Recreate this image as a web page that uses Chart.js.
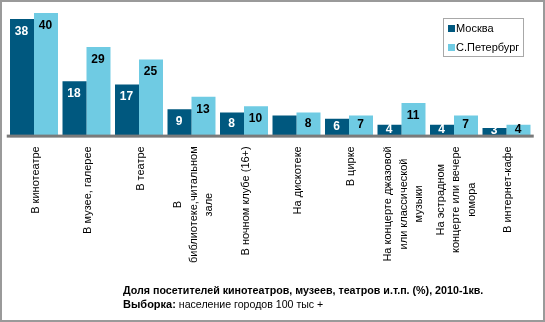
<!DOCTYPE html>
<html>
<head>
<meta charset="utf-8">
<script src="https://cdn.jsdelivr.net/npm/chart.js@4/dist/chart.umd.min.js"></script>
<style>
  html, body { margin: 0; padding: 0; background: #fff; }
  #wrap { width: 545px; height: 322px; position: relative; }
</style>
</head>
<body>
<div id="wrap"><canvas id="visitChart" width="545" height="322"></canvas></div>
<script>
const categories = [
  ['В кинотеатре'],
  ['В музее, галерее'],
  ['В театре'],
  ['В', 'библиотеке,читальном', 'зале'],
  ['В ночном клубе (16+)'],
  ['На дискотеке'],
  ['В цирке'],
  ['На концерте джазовой', 'или классической', 'музыки'],
  ['На эстрадном', 'концерте или вечере', 'юмора'],
  ['В интернет-кафе']
];
const moscow = [38, 18, 17, 9, 8, 7, 6, 4, 4, 3];
const spb = [40, 29, 25, 13, 10, 8, 7, 11, 7, 4];
const seriesNames = ['Москва', 'С.Петербург'];
const titleText = 'Доля посетителей кинотеатров, музеев, театров и.т.п. (%), 2010-1кв.';
const sampleBold = 'Выборка:';
const sampleText = ' население городов 100 тыс +';

const darkBlue = '#00587f';
const lightBlue = '#6fcbe3';
const font = '"Liberation Sans", Arial, sans-serif';

// value labels inside the bars (the Moscow label on "На дискотеке" is not visible in the original)
const valueLabels = {
  id: 'valueLabels',
  afterDatasetsDraw(chart) {
    const ctx = chart.ctx;
    ctx.save();
    ctx.font = 'bold 12px ' + font;
    ctx.textAlign = 'center';
    ctx.textBaseline = 'middle';
    chart.data.datasets.forEach((ds, i) => {
      chart.getDatasetMeta(i).data.forEach((bar, j) => {
        if (i === 0 && j === 5) return;
        const h = bar.base - bar.y;
        const y = bar.y + Math.min(12, h / 2 - 2);
        ctx.fillStyle = i === 0 ? '#ffffff' : '#000000';
        ctx.fillText(ds.data[j], bar.x - 0.5, y + 0.5);
      });
    });
    ctx.restore();
  }
};

// axis line, rotated category labels, legend box, footer text, frame
const decorations = {
  id: 'decorations',
  afterDraw(chart) {
    const ctx = chart.ctx;
    const area = chart.chartArea;
    const xs = chart.scales.x;
    ctx.save();

    ctx.fillStyle = '#7a7a7a';
    ctx.fillRect(area.left - 1, area.bottom - 2.7, area.right - area.left + 2, 3);

    ctx.fillStyle = '#000';
    ctx.font = '11px ' + font;
    ctx.textBaseline = 'middle';
    const top = area.bottom + 9;
    categories.forEach((lines, i) => {
      const cx = xs.getPixelForValue(i) + (lines.length > 1 ? 2 : 1.5);
      ctx.save();
      ctx.translate(cx, top);
      ctx.rotate(-Math.PI / 2);
      const w = Math.max(...lines.map(l => ctx.measureText(l).width));
      ctx.textAlign = 'center';
      lines.forEach((l, k) => {
        ctx.fillText(l, -w / 2, (k - (lines.length - 1) / 2) * 15.5);
      });
      ctx.restore();
    });

    // legend
    ctx.strokeStyle = '#a8a8a8';
    ctx.lineWidth = 1;
    ctx.strokeRect(443.5, 18.5, 80, 38);
    ctx.font = '11px ' + font;
    ctx.textAlign = 'left';
    [darkBlue, lightBlue].forEach((c, k) => {
      const y = 28.5 + k * 19;
      ctx.fillStyle = c;
      ctx.fillRect(448, y - 3.5, 7, 7);
      ctx.fillStyle = '#000';
      ctx.fillText(seriesNames[k], 456, y);
    });

    // footer
    ctx.font = 'bold 10.7px ' + font;
    ctx.fillText(titleText, 123, 291, 361);
    ctx.font = 'bold 11px ' + font;
    ctx.fillText(sampleBold, 123, 305);
    const bw = ctx.measureText(sampleBold).width;
    ctx.font = '10.6px ' + font;
    ctx.fillText(sampleText, 123 + bw, 305);

    ctx.strokeStyle = '#9a9a9a';
    ctx.lineWidth = 2;
    ctx.strokeRect(1, 1, 543, 320);
    ctx.restore();
  }
};

new Chart(document.getElementById('visitChart').getContext('2d'), {
  type: 'bar',
  data: {
    labels: categories.map(l => l.join(' ')),
    datasets: [
      { label: seriesNames[0], data: moscow, backgroundColor: darkBlue },
      { label: seriesNames[1], data: spb, backgroundColor: lightBlue }
    ]
  },
  options: {
    responsive: false,
    animation: false,
    layout: { padding: { left: 7.75, right: 12.25, top: 12.9, bottom: 184.7 } },
    datasets: { bar: { categoryPercentage: 0.914, barPercentage: 1 } },
    scales: {
      x: { display: false },
      y: { display: false, min: 0, max: 40 }
    },
    plugins: { legend: { display: false }, tooltip: { enabled: false } }
  },
  plugins: [valueLabels, decorations]
});
</script>
</body>
</html>
